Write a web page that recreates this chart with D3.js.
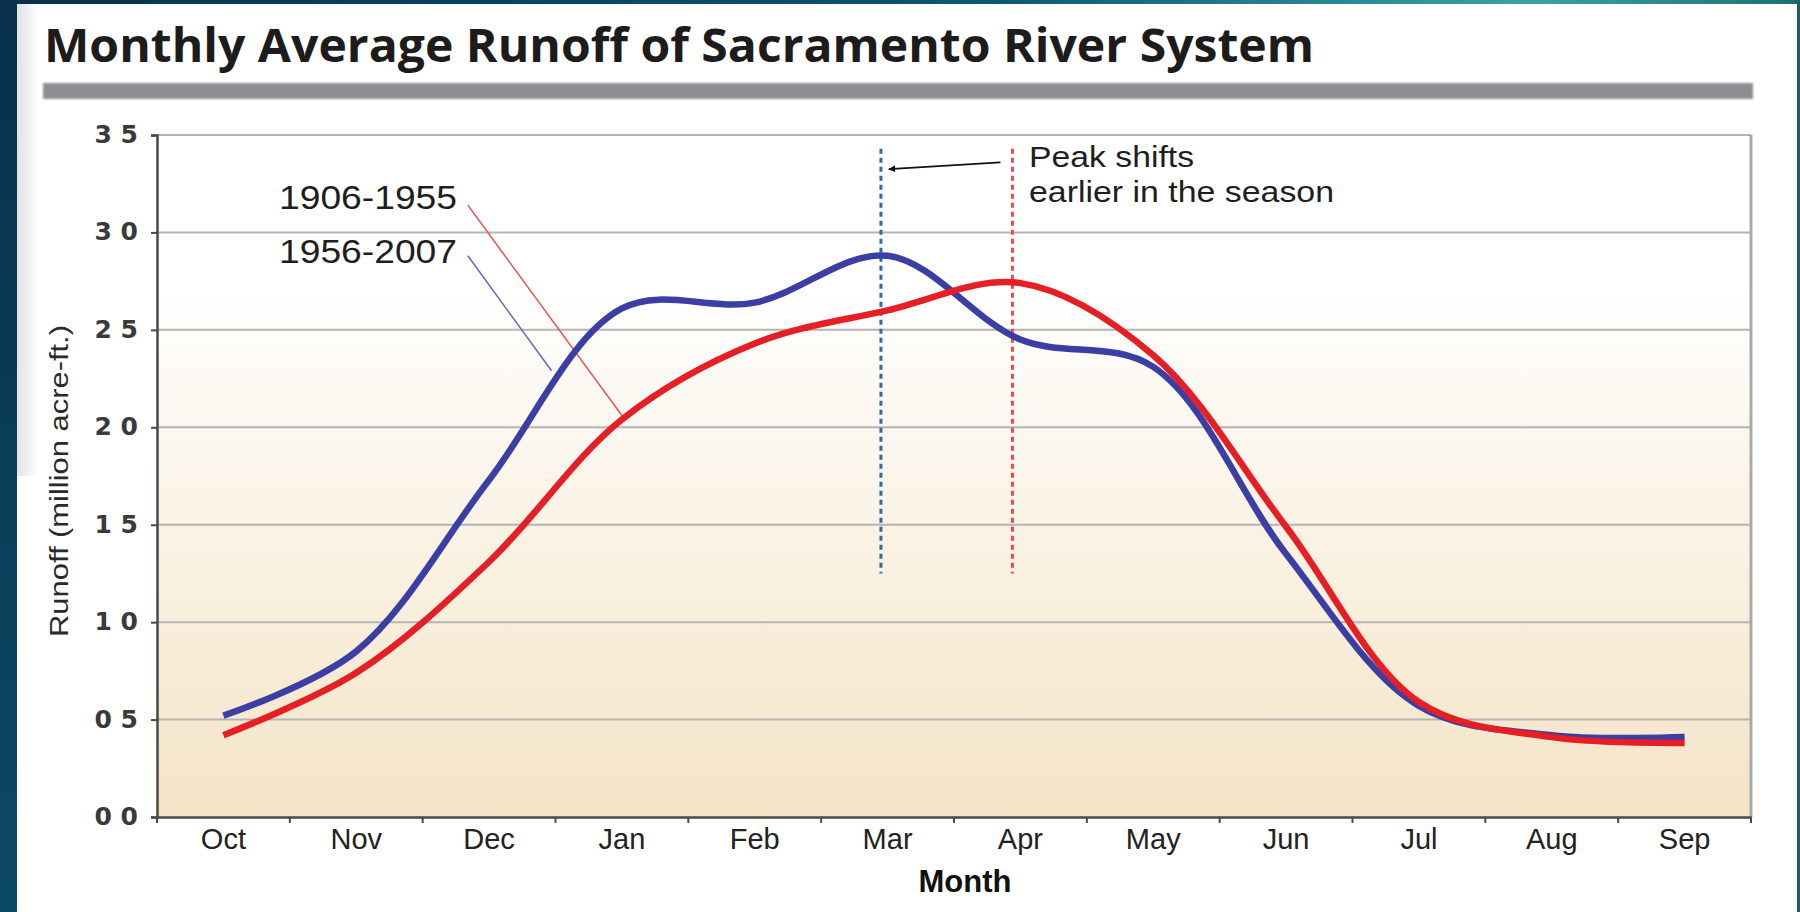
<!DOCTYPE html>
<html>
<head>
<meta charset="utf-8">
<script src="https://cdn.jsdelivr.net/npm/d3@7/dist/d3.min.js"></script>
<style>
  html, body { margin: 0; padding: 0; background: #0d4660; }
  svg { display: block; }
</style>
</head>
<body>
<svg id="chart" width="1800" height="912"></svg>
<script>
// ---------------- DATA ----------------
const months = ["Oct","Nov","Dec","Jan","Feb","Mar","Apr","May","Jun","Jul","Aug","Sep"];
const runoff1906_1955 = [0.42, 0.74, 1.31, 2.04, 2.43, 2.60, 2.74, 2.37, 1.49, 0.59, 0.41, 0.38];
const runoff1956_2007 = [0.52, 0.85, 1.73, 2.61, 2.64, 2.88, 2.45, 2.31, 1.35, 0.57, 0.42, 0.41];
const yTicks = [0, 0.5, 1.0, 1.5, 2.0, 2.5, 3.0, 3.5];
const yTickLabels = ["0 0", "0 5", "1 0", "1 5", "2 0", "2 5", "3 0", "3 5"];
const seriesNames = ["1906-1955", "1956-2007"];
const peakIndex = [5.94, 4.95];          // red (1906-1955) peak ~Apr, blue (1956-2007) peak ~Mar
const peakLineRange = [1.25, 3.43];
const titleText = "Monthly Average Runoff of Sacramento River System";
const yLabel = "Runoff (million acre-ft.)";
const xLabel = "Month";
const noteLines = ["Peak shifts", "earlier in the season"];

// ---------------- LAYOUT ----------------
const svg = d3.select("#chart");
const W = 1800, H = 912;
const plot = { left: 157, right: 1751, top: 135, bottom: 817 };
const colRed = "#e61e25", colBlue = "#3b3fa3";

const defs = svg.append("defs");
const gTop = defs.append("linearGradient").attr("id", "topg").attr("x1", 0).attr("x2", 1).attr("y1", 0).attr("y2", 0);
gTop.append("stop").attr("offset", "0%").attr("stop-color", "#08304c");
gTop.append("stop").attr("offset", "55%").attr("stop-color", "#0e5670");
gTop.append("stop").attr("offset", "85%").attr("stop-color", "#3aa3a8");
gTop.append("stop").attr("offset", "100%").attr("stop-color", "#1f6f74");
const gLeft = defs.append("linearGradient").attr("id", "leftg").attr("x1", 0).attr("x2", 0).attr("y1", 0).attr("y2", 1);
gLeft.append("stop").attr("offset", "0%").attr("stop-color", "#08304c");
gLeft.append("stop").attr("offset", "100%").attr("stop-color", "#0b4a63");
const gPlot = defs.append("linearGradient").attr("id", "plotg").attr("x1", 0).attr("x2", 0).attr("y1", 0).attr("y2", 1);
gPlot.append("stop").attr("offset", "0%").attr("stop-color", "#ffffff");
gPlot.append("stop").attr("offset", "22%").attr("stop-color", "#ffffff");
gPlot.append("stop").attr("offset", "100%").attr("stop-color", "#f4e4c6");
const gShade = defs.append("linearGradient").attr("id", "shadeg").attr("x1", 0).attr("x2", 1).attr("y1", 0).attr("y2", 0);
gShade.append("stop").attr("offset", "0%").attr("stop-color", "#e2e2e2");
gShade.append("stop").attr("offset", "100%").attr("stop-color", "#ffffff");
defs.append("marker").attr("id", "arrow").attr("viewBox", "0 0 10 10").attr("refX", 9).attr("refY", 5)
  .attr("markerWidth", 7).attr("markerHeight", 7).attr("markerUnits", "userSpaceOnUse").attr("orient", "auto")
  .append("path").attr("d", "M0,0 L10,5 L0,10 z").attr("fill", "#111");
const blur = defs.append("filter").attr("id", "soft").attr("x", "-5%").attr("y", "-50%").attr("width", "110%").attr("height", "200%");
blur.append("feGaussianBlur").attr("stdDeviation", 0.8);

// slide background
svg.append("rect").attr("width", W).attr("height", H).attr("fill", "url(#leftg)");
svg.append("rect").attr("x", 0).attr("y", 0).attr("width", W).attr("height", 5).attr("fill", "url(#topg)");
svg.append("rect").attr("x", 1796).attr("y", 0).attr("width", 4).attr("height", H).attr("fill", "#1d6166");
svg.append("rect").attr("x", 17).attr("y", 4).attr("width", 1780).attr("height", H - 4).attr("fill", "#ffffff");
svg.append("rect").attr("x", 17).attr("y", 4).attr("width", 22).attr("height", 472).attr("fill", "url(#shadeg)");

// title + bar
svg.append("text").attr("x", 44).attr("y", 62).text(titleText)
  .attr("font-family", "'Open Sans', 'DejaVu Sans', sans-serif").attr("font-weight", 700)
  .attr("font-size", 46).attr("fill", "#1e1b1c")
  .attr("textLength", 1270).attr("lengthAdjust", "spacingAndGlyphs");
svg.append("rect").attr("x", 43).attr("y", 83).attr("width", 1710).attr("height", 16)
  .attr("fill", "#8d8e92").attr("filter", "url(#soft)");

// ---------------- SCALES ----------------
const x = d3.scaleBand().domain(months).range([plot.left, plot.right]).padding(0);
const xi = d3.scaleLinear().domain([-0.5, months.length - 0.5]).range([plot.left, plot.right]);
const y = d3.scaleLinear().domain([0, 3.5]).range([plot.bottom, plot.top]);

// plot background
svg.append("rect").attr("x", plot.left).attr("y", plot.top)
  .attr("width", plot.right - plot.left).attr("height", plot.bottom - plot.top)
  .attr("fill", "url(#plotg)");

// gridlines
svg.append("g").selectAll("line").data(yTicks.filter(d => d > 0)).join("line")
  .attr("x1", plot.left).attr("x2", plot.right)
  .attr("y1", d => y(d)).attr("y2", d => y(d))
  .attr("stroke", "#b4b4b4").attr("stroke-width", 2);

// right border
svg.append("line").attr("x1", plot.right).attr("x2", plot.right).attr("y1", plot.top).attr("y2", plot.bottom)
  .attr("stroke", "#a9a9a9").attr("stroke-width", 3);

// y axis
const yAxis = d3.axisLeft(y).tickValues(yTicks).tickSize(6).tickFormat((d, i) => yTickLabels[i]);
const gy = svg.append("g").attr("transform", `translate(${plot.left},0)`).call(yAxis);
gy.select(".domain").attr("stroke", "#4a4a4a").attr("stroke-width", 2.5);
gy.selectAll(".tick line").attr("stroke", "#4a4a4a").attr("stroke-width", 2);
gy.selectAll(".tick text").attr("x", -19).attr("dy", "0.30em")
  .attr("font-family", "'DejaVu Sans', sans-serif").attr("font-weight", 700)
  .attr("font-size", 25).attr("fill", "#3a3a3a");

// x axis
const xAxis = d3.axisBottom(x).tickSize(0).tickSizeOuter(0);
const gx = svg.append("g").attr("transform", `translate(0,${plot.bottom})`).call(xAxis);
gx.select(".domain").attr("stroke", "#4a4a4a").attr("stroke-width", 2.5);
gx.selectAll(".tick text").attr("y", 11)
  .attr("font-family", "'Liberation Sans', Arial, sans-serif")
  .attr("font-size", 29).attr("fill", "#222");
// boundary ticks between months
svg.append("g").selectAll("line").data(d3.range(0, months.length + 1)).join("line")
  .attr("x1", d => xi(d - 0.5)).attr("x2", d => xi(d - 0.5))
  .attr("y1", plot.bottom).attr("y2", plot.bottom + 6)
  .attr("stroke", "#4a4a4a").attr("stroke-width", 2);

// axis titles
svg.append("text").attr("x", 965).attr("y", 892).attr("text-anchor", "middle").text(xLabel)
  .attr("font-family", "'Liberation Sans', Arial, sans-serif").attr("font-weight", 700)
  .attr("font-size", 31).attr("fill", "#111");
svg.append("text").attr("transform", "translate(59,481) rotate(-90)").attr("text-anchor", "middle")
  .attr("dominant-baseline", "central").text(yLabel)
  .attr("font-family", "'Liberation Sans', Arial, sans-serif")
  .attr("font-size", 26).attr("fill", "#2a2a2a")
  .attr("textLength", 312).attr("lengthAdjust", "spacingAndGlyphs");

// leader lines from labels
const leaders = [
  { from: [1.84, 3.14], to: [3.0, 2.06], color: "#e8575b" },
  { from: [1.84, 2.88], to: [2.47, 2.29], color: "#6a6db5" }
];
svg.append("g").selectAll("line").data(leaders).join("line")
  .attr("x1", d => xi(d.from[0])).attr("y1", d => y(d.from[1]))
  .attr("x2", d => xi(d.to[0])).attr("y2", d => y(d.to[1]))
  .attr("stroke", d => d.color).attr("stroke-width", 1.6);

// series labels
svg.append("g").selectAll("text").data(seriesNames).join("text")
  .attr("x", 457).attr("y", (d, i) => i === 0 ? 209 : 263)
  .attr("text-anchor", "end").text(d => d)
  .attr("font-family", "'Liberation Sans', Arial, sans-serif")
  .attr("font-size", 33).attr("fill", "#1e1e1e")
  .attr("textLength", 178).attr("lengthAdjust", "spacingAndGlyphs");

// peak dashed lines
svg.append("g").selectAll("line").data(peakIndex).join("line")
  .attr("x1", d => xi(d)).attr("x2", d => xi(d))
  .attr("y1", y(peakLineRange[1])).attr("y2", y(peakLineRange[0]))
  .attr("stroke", (d, i) => i === 0 ? "#ec4a4f" : "#2f6aa6")
  .attr("stroke-width", 3).attr("stroke-dasharray", "5,4");

// lines
const line = d3.line()
  .x((d, i) => x(months[i]) + x.bandwidth() / 2)
  .y(d => y(d))
  .curve(d3.curveCatmullRom.alpha(0.5));
svg.append("path").datum(runoff1956_2007).attr("d", line)
  .attr("fill", "none").attr("stroke", colBlue).attr("stroke-width", 6.5).attr("stroke-linecap", "butt");
svg.append("path").datum(runoff1906_1955).attr("d", line)
  .attr("fill", "none").attr("stroke", colRed).attr("stroke-width", 6.5).attr("stroke-linecap", "butt");

// annotation arrow + text
svg.append("line")
  .attr("x1", xi(5.85)).attr("y1", y(3.36))
  .attr("x2", xi(5.01)).attr("y2", y(3.325))
  .attr("stroke", "#111").attr("stroke-width", 1.8).attr("marker-end", "url(#arrow)");
const noteLens = [165, 305];
svg.append("g").selectAll("text").data(noteLines).join("text")
  .attr("x", 1029).attr("y", (d, i) => 167 + i * 35).text(d => d)
  .attr("font-family", "'Liberation Sans', Arial, sans-serif")
  .attr("font-size", 30).attr("fill", "#1e1e1e")
  .attr("textLength", (d, i) => noteLens[i]).attr("lengthAdjust", "spacingAndGlyphs");
</script>
</body>
</html>
